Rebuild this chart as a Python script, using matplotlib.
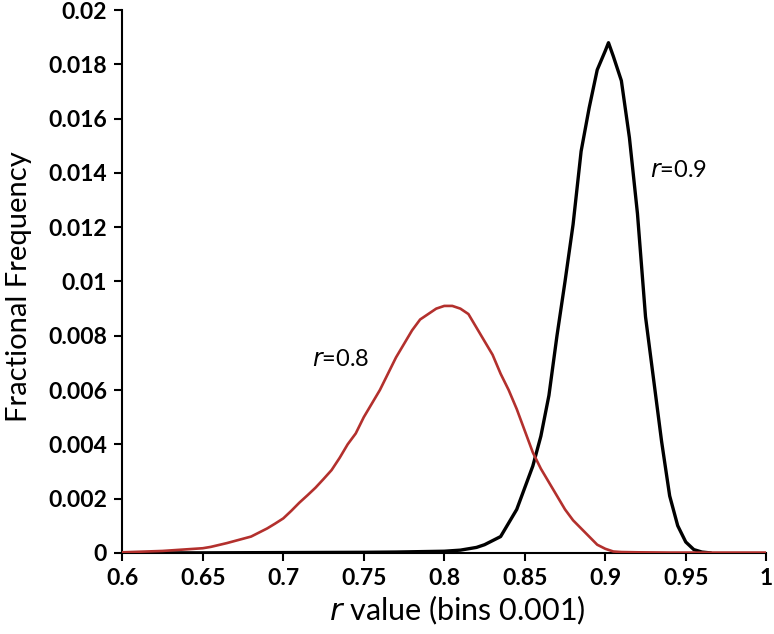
import matplotlib.pyplot as plt

# r value bins (at 0.005 spacing)
r_red = [0.600, 0.605, 0.610, 0.615, 0.620, 0.625, 0.630, 0.635, 0.640, 0.645,
         0.650, 0.655, 0.660, 0.665, 0.670, 0.675, 0.680, 0.685, 0.690, 0.695,
         0.700, 0.705, 0.710, 0.715, 0.720, 0.725, 0.730, 0.735, 0.740, 0.745,
         0.750, 0.755, 0.760, 0.765, 0.770, 0.775, 0.780, 0.785, 0.790, 0.795,
         0.800, 0.805, 0.810, 0.815, 0.820, 0.825, 0.830, 0.835, 0.840, 0.845,
         0.850, 0.855, 0.860, 0.865, 0.870, 0.875, 0.880, 0.885, 0.890, 0.895,
         0.900, 0.905, 0.910, 0.920, 0.940, 0.960, 0.980, 1.000]
freq_r08 = [0.00002, 0.00003, 0.00004, 0.00005, 0.00006, 0.00007, 0.00009, 0.00011, 0.00013, 0.00015,
            0.00017, 0.00022, 0.00029, 0.00036, 0.00044, 0.00052, 0.00060, 0.00075, 0.00090, 0.00108,
            0.00127, 0.00155, 0.00185, 0.00212, 0.00240, 0.00272, 0.00305, 0.00350, 0.00400, 0.00440,
            0.00500, 0.00550, 0.00600, 0.00660, 0.00720, 0.00770, 0.00820, 0.00860, 0.00880, 0.00900,
            0.00910, 0.00910, 0.00900, 0.00880, 0.00830, 0.00780, 0.00730, 0.00660, 0.00600, 0.00530,
            0.00450, 0.00370, 0.00310, 0.00260, 0.00210, 0.00160, 0.00120, 0.00090, 0.00060, 0.00030,
            0.00015, 0.00005, 0.00003, 0.00002, 0.00001, 0.00001, 0.00001, 0.00001]

r_black = [0.620, 0.650, 0.700, 0.750, 0.770, 0.780, 0.790, 0.800, 0.805, 0.810,
           0.815, 0.820, 0.825, 0.830, 0.835, 0.840, 0.845, 0.850, 0.855, 0.860,
           0.865, 0.870, 0.875, 0.880, 0.885, 0.890, 0.895, 0.900, 0.902, 0.905,
           0.910, 0.915, 0.920, 0.925, 0.930, 0.935, 0.940, 0.945, 0.950, 0.955,
           0.960, 0.965]
freq_r09 = [0.00000, 0.00000, 0.00001, 0.00002, 0.00003, 0.00004, 0.00005, 0.00006, 0.00008, 0.00010,
            0.00015, 0.00020, 0.00030, 0.00045, 0.00060, 0.00110, 0.00160, 0.00240, 0.00320, 0.00430,
            0.00580, 0.00800, 0.01000, 0.01210, 0.01480, 0.01640, 0.01780, 0.01850, 0.01880, 0.01830,
            0.01740, 0.01530, 0.01250, 0.00870, 0.00640, 0.00410, 0.00210, 0.00100, 0.00040, 0.00012,
            0.00003, 0.00000]

x_ticks = [0.6, 0.65, 0.7, 0.75, 0.8, 0.85, 0.9, 0.95, 1.0]
x_tick_labels = ['0.6', '0.65', '0.7', '0.75', '0.8', '0.85', '0.9', '0.95', '1']
y_ticks = [0, 0.002, 0.004, 0.006, 0.008, 0.01, 0.012, 0.014, 0.016, 0.018, 0.02]
y_tick_labels = ['0', '0.002', '0.004', '0.006', '0.008', '0.01', '0.012', '0.014', '0.016', '0.018', '0.02']

plt.rcParams['font.family'] = ['Lato', 'DejaVu Sans']

fig = plt.figure(figsize=(7.74, 6.34), dpi=100)
ax = fig.add_axes([0.158, 0.128, 0.832, 0.856])

ax.plot(r_black, freq_r09, color='black', linewidth=2.4, zorder=2)
ax.plot(r_red, freq_r08, color='#b3302d', linewidth=1.9, zorder=3)

ax.set_xlim(0.6, 1.0)
ax.set_ylim(0, 0.02)
ax.set_xticks(x_ticks)
ax.set_xticklabels(x_tick_labels, fontsize=16.5, fontweight='bold')
ax.set_yticks(y_ticks)
ax.set_yticklabels(y_tick_labels, fontsize=16.5, fontweight='bold')
ax.tick_params(direction='out', length=6, width=1.5, pad=5)

for side in ['top', 'right']:
    ax.spines[side].set_visible(False)
for side in ['left', 'bottom']:
    ax.spines[side].set_linewidth(1.5)

ax.set_xlabel(r'$\it{r}$ value (bins 0.001)', fontsize=22, labelpad=4)
ax.xaxis.set_label_coords(0.52, -0.075)
ax.set_ylabel('Fractional Frequency', fontsize=21, labelpad=6)
ax.yaxis.set_label_coords(-0.14, 0.49)

ax.text(0.718, 0.00714, r'$\it{r}$=0.8', fontsize=17, va='center')
ax.text(0.928, 0.0141, r'$\it{r}$=0.9', fontsize=17, va='center')

fig.savefig('out.png', dpi=100)
